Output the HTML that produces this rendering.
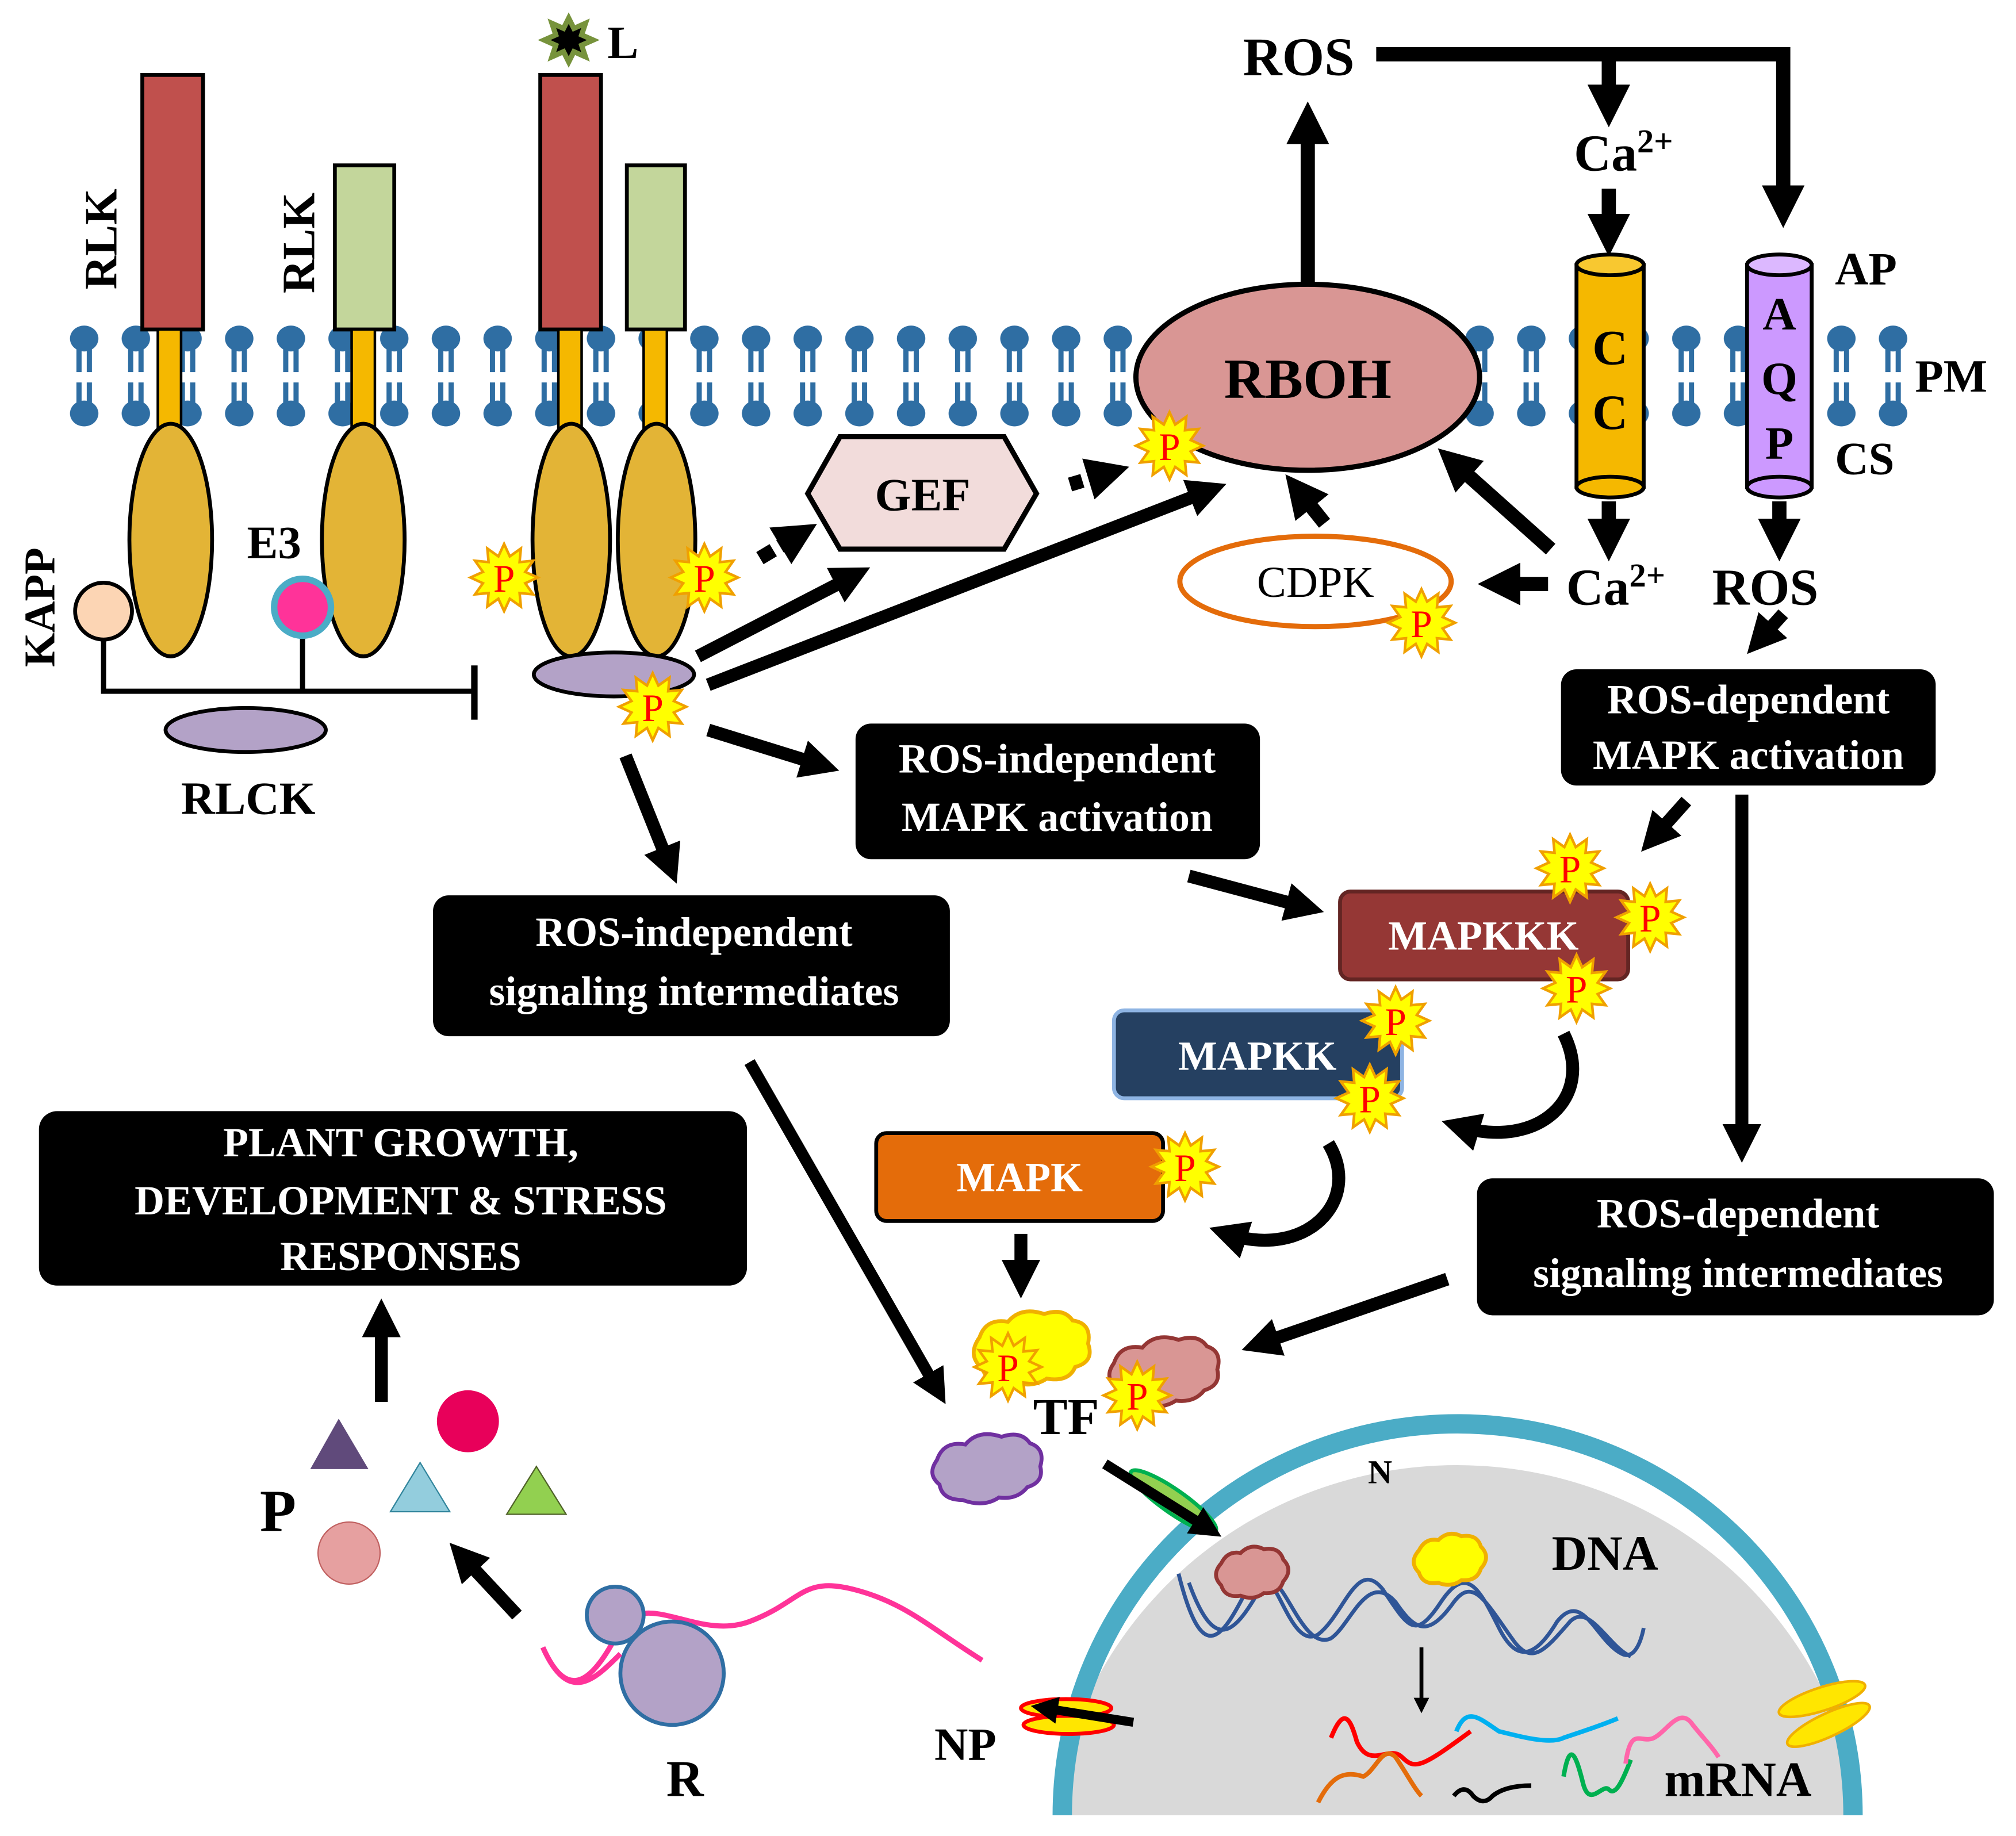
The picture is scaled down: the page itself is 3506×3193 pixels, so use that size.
<!DOCTYPE html>
<html><head><meta charset="utf-8"><style>html,body{margin:0;padding:0;background:#fff}svg{display:block}</style></head><body>
<svg xmlns="http://www.w3.org/2000/svg" xmlns:xlink="http://www.w3.org/1999/xlink" width="3506" height="3193" viewBox="0 0 1560 1421" font-family="Liberation Serif, serif" font-weight="bold">
<defs>
<marker id="ah" viewBox="0 0 10 10" refX="5" refY="5" markerWidth="3" markerHeight="3" orient="auto" markerUnits="strokeWidth"><path d="M0,0 L10,5 L0,10 z" fill="#000"/></marker>
<marker id="ah2" viewBox="0 0 10 10" refX="5" refY="5" markerWidth="4" markerHeight="4" orient="auto" markerUnits="strokeWidth"><path d="M0,0 L10,5 L0,10 z" fill="#000"/></marker>
<pattern id="lip" x="45" y="0" width="40" height="421" patternUnits="userSpaceOnUse">
<ellipse cx="20" cy="262" rx="11" ry="10" fill="#2f6ea3"/>
<line x1="16" y1="265" x2="16" y2="288" stroke="#2f6ea3" stroke-width="4"/>
<line x1="24" y1="265" x2="24" y2="288" stroke="#2f6ea3" stroke-width="4"/>
<ellipse cx="20" cy="320" rx="11" ry="10" fill="#2f6ea3"/>
<line x1="16" y1="296" x2="16" y2="317" stroke="#2f6ea3" stroke-width="4"/>
<line x1="24" y1="296" x2="24" y2="317" stroke="#2f6ea3" stroke-width="4"/>
</pattern>
<polygon id="star" points="26,0 16.4,4.4 22.5,13 12,12 13,22.5 4.4,16.4 0,26 -4.4,16.4 -13,22.5 -12,12 -22.5,13 -16.4,4.4 -26,0 -16.4,-4.4 -22.5,-13 -12,-12 -13,-22.5 -4.4,-16.4 0,-26 4.4,-16.4 13,-22.5 12,-12 22.5,-13 16.4,-4.4" fill="#ffff00" stroke="#f0a000" stroke-width="2"/>
</defs>

<!-- membrane -->
<rect x="45" y="245" width="1440" height="90" fill="url(#lip)"/>

<!-- RLKs -->
<rect x="110" y="58" width="47" height="197" fill="#c0504d" stroke="#000" stroke-width="3"/>
<rect x="122" y="255" width="18" height="80" fill="#f5b800" stroke="#000" stroke-width="2"/>
<ellipse cx="132" cy="418" rx="32" ry="90" fill="#e3b436" stroke="#000" stroke-width="3"/>
<rect x="259" y="128" width="46" height="127" fill="#c3d69b" stroke="#000" stroke-width="3"/>
<rect x="272" y="255" width="18" height="80" fill="#f5b800" stroke="#000" stroke-width="2"/>
<ellipse cx="281" cy="418" rx="32" ry="90" fill="#e3b436" stroke="#000" stroke-width="3"/>
<rect x="418" y="58" width="47" height="197" fill="#c0504d" stroke="#000" stroke-width="3"/>
<rect x="432" y="255" width="18" height="80" fill="#f5b800" stroke="#000" stroke-width="2"/>
<ellipse cx="442" cy="418" rx="30" ry="90" fill="#e3b436" stroke="#000" stroke-width="3"/>
<rect x="485" y="128" width="45" height="127" fill="#c3d69b" stroke="#000" stroke-width="3"/>
<rect x="498" y="255" width="18" height="80" fill="#f5b800" stroke="#000" stroke-width="2"/>
<ellipse cx="508" cy="418" rx="30" ry="90" fill="#e3b436" stroke="#000" stroke-width="3"/>
<text transform="translate(90,185) rotate(-90)" font-size="36" text-anchor="middle">RLK</text>
<text transform="translate(243,188) rotate(-90)" font-size="36" text-anchor="middle">RLK</text>
<polygon points="440,14 444,22 453,18 450,27 459,31 450,35 453,44 444,40 440,48 436,40 427,44 430,35 421,31 430,27 427,18 436,22" fill="#000" stroke="#77933c" stroke-width="4"/>
<text x="470" y="45" font-size="36">L</text>
<text transform="translate(42,470) rotate(-90)" font-size="34" text-anchor="middle">KAPP</text>

<!-- KAPP/E3 -->
<polyline points="80,495 80,535 365,535" fill="none" stroke="#000" stroke-width="4"/>
<line x1="367" y1="515" x2="367" y2="557" stroke="#000" stroke-width="5"/>
<line x1="234" y1="492" x2="234" y2="535" stroke="#000" stroke-width="4"/>
<circle cx="80" cy="473" r="22" fill="#fcd5b4" stroke="#000" stroke-width="3"/>
<circle cx="234" cy="470" r="22" fill="#ff3399" stroke="#4bacc6" stroke-width="5"/>
<text x="212" y="432" font-size="36" text-anchor="middle">E3</text>
<ellipse cx="190" cy="565" rx="62" ry="17" fill="#b3a2c7" stroke="#000" stroke-width="3"/>
<text x="192" y="630" font-size="36" text-anchor="middle">RLCK</text>
<ellipse cx="475" cy="522" rx="62" ry="17" fill="#b3a2c7" stroke="#000" stroke-width="3"/>

<!-- GEF -->
<polygon points="625,382 650,338 777,338 802,382 777,425 650,425" fill="#f2dcdb" stroke="#000" stroke-width="4"/>
<text x="714" y="395" font-size="36" text-anchor="middle">GEF</text>

<!-- RBOH -->
<line x1="1012" y1="222" x2="1012" y2="95" stroke="#000" stroke-width="11" marker-end="url(#ah)"/>
<ellipse cx="1012" cy="292" rx="133" ry="72" fill="#d99694" stroke="#000" stroke-width="4"/>
<text x="1012" y="308" font-size="44" text-anchor="middle">RBOH</text>
<text x="1005" y="58" font-size="42" text-anchor="middle">ROS</text>
<polyline points="1065,42 1380,42 1380,160" fill="none" stroke="#000" stroke-width="11" marker-end="url(#ah)"/>
<line x1="1245" y1="42" x2="1245" y2="82" stroke="#000" stroke-width="11" marker-end="url(#ah)"/>
<text x="1218" y="132" font-size="40">Ca<tspan font-size="26" dy="-14">2+</tspan></text>
<line x1="1245" y1="146" x2="1245" y2="182" stroke="#000" stroke-width="11" marker-end="url(#ah)"/>

<!-- CC -->
<rect x="1220" y="205" width="52" height="172" fill="#f5b800" stroke="#000" stroke-width="3"/>
<ellipse cx="1246" cy="205" rx="26" ry="8" fill="#f8c830" stroke="#000" stroke-width="3"/>
<ellipse cx="1246" cy="377" rx="26" ry="8" fill="#f5b800" stroke="#000" stroke-width="3"/>
<text x="1246" y="282" font-size="38" text-anchor="middle">C</text>
<text x="1246" y="332" font-size="38" text-anchor="middle">C</text>
<!-- AQP -->
<rect x="1352" y="205" width="50" height="172" fill="#cc99ff" stroke="#000" stroke-width="3"/>
<ellipse cx="1377" cy="205" rx="25" ry="8" fill="#dcb8ff" stroke="#000" stroke-width="3"/>
<ellipse cx="1377" cy="377" rx="25" ry="8" fill="#cc99ff" stroke="#000" stroke-width="3"/>
<text x="1377" y="255" font-size="36" text-anchor="middle">A</text>
<text x="1377" y="305" font-size="36" text-anchor="middle">Q</text>
<text x="1377" y="355" font-size="36" text-anchor="middle">P</text>
<text x="1420" y="220" font-size="36">AP</text>
<text x="1482" y="303" font-size="36">PM</text>
<text x="1420" y="367" font-size="36">CS</text>
<line x1="1245" y1="388" x2="1245" y2="418" stroke="#000" stroke-width="11" marker-end="url(#ah)"/>
<line x1="1377" y1="388" x2="1377" y2="418" stroke="#000" stroke-width="11" marker-end="url(#ah)"/>
<text x="1212" y="468" font-size="40">Ca<tspan font-size="26" dy="-14">2+</tspan></text>
<text x="1325" y="468" font-size="40">ROS</text>

<!-- CDPK -->
<ellipse cx="1018" cy="450" rx="105" ry="35" fill="#fff" stroke="#e46c0a" stroke-width="4"/>
<text x="1018" y="462" font-size="34" text-anchor="middle" font-weight="normal">CDPK</text>
<line x1="1198" y1="452" x2="1160" y2="452" stroke="#000" stroke-width="11" marker-end="url(#ah)"/>
<line x1="1200" y1="425" x2="1125" y2="358" stroke="#000" stroke-width="11" marker-end="url(#ah)"/>
<line x1="1025" y1="405" x2="1005" y2="380" stroke="#000" stroke-width="11" marker-end="url(#ah)"/>

<!-- arrows from RLK complex -->
<line x1="588" y1="432" x2="618" y2="414" stroke="#000" stroke-width="11" stroke-dasharray="12,6" marker-end="url(#ah)"/>
<line x1="540" y1="508" x2="660" y2="446" stroke="#000" stroke-width="10" marker-end="url(#ah)"/>
<line x1="548" y1="530" x2="935" y2="380" stroke="#000" stroke-width="10" marker-end="url(#ah)"/>
<line x1="828" y1="375" x2="858" y2="366" stroke="#000" stroke-width="11" stroke-dasharray="10,5" marker-end="url(#ah)"/>
<line x1="548" y1="565" x2="635" y2="592" stroke="#000" stroke-width="10" marker-end="url(#ah)"/>
<line x1="484" y1="585" x2="518" y2="670" stroke="#000" stroke-width="10" marker-end="url(#ah)"/>
<line x1="1380" y1="475" x2="1362" y2="495" stroke="#000" stroke-width="10" marker-end="url(#ah)"/>

<!-- boxes -->
<rect x="1208" y="518" width="290" height="90" rx="12" fill="#000"/>
<text x="1353" y="552" font-size="32" fill="#fff" text-anchor="middle">ROS-dependent</text>
<text x="1353" y="595" font-size="32" fill="#fff" text-anchor="middle">MAPK activation</text>
<rect x="662" y="560" width="313" height="105" rx="12" fill="#000"/>
<text x="818" y="598" font-size="32" fill="#fff" text-anchor="middle">ROS-independent</text>
<text x="818" y="643" font-size="32" fill="#fff" text-anchor="middle">MAPK activation</text>
<rect x="335" y="693" width="400" height="109" rx="12" fill="#000"/>
<text x="537" y="732" font-size="32" fill="#fff" text-anchor="middle">ROS-independent</text>
<text x="537" y="778" font-size="32" fill="#fff" text-anchor="middle">signaling intermediates</text>
<rect x="30" y="860" width="548" height="135" rx="14" fill="#000"/>
<text x="310" y="895" font-size="32" fill="#fff" text-anchor="middle">PLANT GROWTH,</text>
<text x="310" y="940" font-size="32" fill="#fff" text-anchor="middle">DEVELOPMENT &amp; STRESS</text>
<text x="310" y="983" font-size="32" fill="#fff" text-anchor="middle">RESPONSES</text>
<rect x="1143" y="912" width="400" height="106" rx="12" fill="#000"/>
<text x="1345" y="950" font-size="32" fill="#fff" text-anchor="middle">ROS-dependent</text>
<text x="1345" y="996" font-size="32" fill="#fff" text-anchor="middle">signaling intermediates</text>

<!-- more arrows -->
<line x1="920" y1="678" x2="1010" y2="702" stroke="#000" stroke-width="10" marker-end="url(#ah)"/>
<line x1="1305" y1="620" x2="1280" y2="648" stroke="#000" stroke-width="10" marker-end="url(#ah)"/>
<line x1="1348" y1="615" x2="1348" y2="885" stroke="#000" stroke-width="10" marker-end="url(#ah)"/>
<line x1="1120" y1="990" x2="975" y2="1040" stroke="#000" stroke-width="10" marker-end="url(#ah)"/>
<line x1="580" y1="822" x2="725" y2="1075" stroke="#000" stroke-width="9" marker-end="url(#ah)"/>
<line x1="790" y1="955" x2="790" y2="990" stroke="#000" stroke-width="10" marker-end="url(#ah)"/>
<line x1="295" y1="1085" x2="295" y2="1020" stroke="#000" stroke-width="10" marker-end="url(#ah)"/>
<line x1="400" y1="1250" x2="358" y2="1205" stroke="#000" stroke-width="10" marker-end="url(#ah)"/>

<!-- MAPK cascade -->
<rect x="1037" y="690" width="223" height="68" rx="8" fill="#953735" stroke="#632523" stroke-width="3"/>
<text x="1148" y="735" font-size="32" fill="#fff" text-anchor="middle">MAPKKK</text>
<rect x="862" y="782" width="223" height="68" rx="8" fill="#254061" stroke="#8eb4e3" stroke-width="3"/>
<text x="973" y="828" font-size="32" fill="#fff" text-anchor="middle">MAPKK</text>
<rect x="678" y="877" width="222" height="68" rx="8" fill="#e46c0a" stroke="#000" stroke-width="3"/>
<text x="789" y="922" font-size="32" fill="#fff" text-anchor="middle">MAPK</text>
<path d="M1210,800 C1235,850 1190,890 1130,872" fill="none" stroke="#000" stroke-width="10" marker-end="url(#ah)"/>
<path d="M1028,885 C1055,930 1010,975 950,955" fill="none" stroke="#000" stroke-width="10" marker-end="url(#ah)"/>

<!-- Nucleus -->
<path d="M815,1405 A315,310 0 0 1 1440,1405 Z" fill="#d9d9d9"/>
<path d="M822,1405 A306,303 0 0 1 1434,1405" fill="none" stroke="#4bacc6" stroke-width="15"/>
<text x="1068" y="1148" font-size="26" text-anchor="middle">N</text>
<text x="1242" y="1215" font-size="38" text-anchor="middle">DNA</text>
<g fill="none" stroke="#2f5597" stroke-width="3">
<path d="M912,1218 C930,1290 945,1270 965,1230 C985,1190 995,1280 1020,1265 C1040,1250 1050,1205 1070,1230 C1090,1260 1095,1270 1115,1240 C1135,1210 1145,1230 1160,1260 C1175,1290 1190,1280 1205,1255 C1225,1230 1235,1270 1255,1280 C1265,1285 1270,1270 1272,1260"/>
<path d="M920,1225 C940,1280 955,1265 975,1230 C990,1200 1005,1280 1030,1268 C1045,1258 1058,1215 1080,1240 C1095,1262 1105,1268 1125,1240 C1140,1220 1150,1240 1170,1268 C1185,1290 1195,1278 1215,1255 C1230,1240 1245,1275 1262,1282"/>
</g>
<path d="M945,1210 q5,-10 15,-8 q8,-8 18,-3 q12,-2 15,8 q8,8 0,17 q-3,10 -15,9 q-8,6 -18,2 q-12,2 -15,-8 q-8,-8 0,-17z" fill="#d99694" stroke="#943634" stroke-width="3"/>
<path d="M1098,1200 q5,-10 15,-8 q8,-8 18,-3 q12,-2 15,8 q8,8 0,17 q-3,10 -15,9 q-8,6 -18,2 q-12,2 -15,-8 q-8,-8 0,-17z" fill="#ffff00" stroke="#f0b000" stroke-width="3"/>
<line x1="1100" y1="1275" x2="1100" y2="1320" stroke="#000" stroke-width="3" marker-end="url(#ah2)"/>
<g fill="none" stroke-width="3.5">
<path d="M1030,1345 C1040,1320 1045,1330 1050,1348 C1060,1370 1075,1350 1085,1360 C1095,1370 1100,1368 1138,1340" stroke="#ff0000"/>
<path d="M1020,1395 C1030,1375 1040,1370 1055,1375 C1065,1370 1070,1350 1080,1360 C1090,1375 1095,1385 1100,1390" stroke="#e46c0a"/>
<path d="M1127,1340 C1135,1320 1145,1330 1160,1340 C1180,1345 1200,1350 1210,1345 C1225,1340 1240,1335 1252,1330" stroke="#00b0f0"/>
<path d="M1125,1390 q8,-10 15,0 q8,8 15,0 q10,-8 30,-8" stroke="#000"/>
<path d="M1210,1375 C1215,1345 1220,1360 1225,1380 C1230,1400 1240,1380 1245,1385 C1250,1390 1255,1380 1262,1362" stroke="#00b050"/>
<path d="M1258,1365 C1262,1335 1270,1350 1280,1345 C1290,1340 1300,1320 1310,1335 C1318,1345 1325,1352 1330,1360" stroke="#ff66aa"/>
</g>
<text x="1345" y="1390" font-size="38" text-anchor="middle">mRNA</text>
<ellipse cx="1410" cy="1315" rx="35" ry="9" transform="rotate(-18 1410 1315)" fill="#ffe600" stroke="#f0b000" stroke-width="2"/>
<ellipse cx="1415" cy="1335" rx="35" ry="9" transform="rotate(-25 1415 1335)" fill="#ffe600" stroke="#f0b000" stroke-width="2"/>
<ellipse cx="908" cy="1162" rx="40" ry="9" transform="rotate(35 908 1162)" fill="#92d050" stroke="#00b050" stroke-width="3"/>
<line x1="855" y1="1133" x2="935" y2="1183" stroke="#000" stroke-width="8" marker-end="url(#ah)"/>
<ellipse cx="825" cy="1322" rx="35" ry="7" fill="#ffe600" stroke="#ff0000" stroke-width="3"/>
<ellipse cx="827" cy="1335" rx="35" ry="7" fill="#ffe600" stroke="#ff0000" stroke-width="3"/>
<line x1="877" y1="1333" x2="808" y2="1322" stroke="#000" stroke-width="7" marker-end="url(#ah)"/>
<text x="747" y="1362" font-size="36" text-anchor="middle">NP</text>

<!-- TF clouds -->
<path d="M758,1035 q5,-15 22,-12 q10,-12 28,-6 q15,-5 22,5 q15,2 12,18 q5,14 -10,18 q-5,12 -22,9 q-12,8 -28,2 q-18,2 -22,-10 q-12,-10 -2,-24z" fill="#ffff00" stroke="#f0b000" stroke-width="3"/>
<path d="M862,1055 q5,-15 22,-12 q10,-12 28,-6 q15,-5 22,5 q12,4 8,18 q3,12 -10,16 q-8,10 -22,8 q-12,8 -28,2 q-16,0 -18,-12 q-10,-8 -2,-19z" fill="#d99694" stroke="#943634" stroke-width="3"/>
<path d="M725,1130 q5,-15 22,-12 q10,-12 28,-6 q15,-5 22,5 q12,4 8,18 q3,12 -10,16 q-8,10 -22,8 q-12,8 -28,2 q-16,0 -18,-12 q-10,-8 -2,-19z" fill="#b3a2c7" stroke="#7030a0" stroke-width="3"/>
<text x="825" y="1110" font-size="40" text-anchor="middle">TF</text>

<!-- Ribosome -->
<path d="M420,1275 C440,1320 460,1300 480,1260 C500,1230 540,1270 580,1255 C620,1240 620,1220 660,1230 C700,1240 720,1260 760,1285" fill="none" stroke="#ff3399" stroke-width="4"/>
<circle cx="476" cy="1250" r="22" fill="#b3a2c7" stroke="#2f6ea3" stroke-width="3"/>
<circle cx="520" cy="1295" r="40" fill="#b3a2c7" stroke="#2f6ea3" stroke-width="3"/>
<path d="M420,1275 C440,1320 460,1300 480,1280" fill="none" stroke="#ff3399" stroke-width="4"/>
<text x="530" y="1390" font-size="40" text-anchor="middle">R</text>

<!-- Products -->
<text x="215" y="1185" font-size="46" text-anchor="middle">P</text>
<polygon points="262,1098 240,1137 285,1137" fill="#604a7b"/>
<circle cx="362" cy="1100" r="24" fill="#e8005a"/>
<polygon points="325,1132 302,1170 348,1170" fill="#93cddd" stroke="#31859c" stroke-width="1"/>
<polygon points="415,1135 392,1172 438,1172" fill="#92d050" stroke="#4f6228" stroke-width="1"/>
<circle cx="270" cy="1202" r="24" fill="#e6a0a0" stroke="#c06060" stroke-width="1"/>

<!-- P stars -->
<g font-size="30" fill="#ff0000" text-anchor="middle" font-weight="normal">
<use xlink:href="#star" x="390" y="447"/><text x="390" y="458">P</text>
<use xlink:href="#star" x="545" y="447"/><text x="545" y="458">P</text>
<use xlink:href="#star" x="505" y="547"/><text x="505" y="558">P</text>
<use xlink:href="#star" x="905" y="345"/><text x="905" y="356">P</text>
<use xlink:href="#star" x="1100" y="482"/><text x="1100" y="493">P</text>
<use xlink:href="#star" x="1215" y="672"/><text x="1215" y="683">P</text>
<use xlink:href="#star" x="1277" y="710"/><text x="1277" y="721">P</text>
<use xlink:href="#star" x="1220" y="765"/><text x="1220" y="776">P</text>
<use xlink:href="#star" x="1080" y="790"/><text x="1080" y="801">P</text>
<use xlink:href="#star" x="1060" y="850"/><text x="1060" y="861">P</text>
<use xlink:href="#star" x="917" y="903"/><text x="917" y="914">P</text>
<use xlink:href="#star" x="780" y="1058"/><text x="780" y="1069">P</text>
<use xlink:href="#star" x="880" y="1080"/><text x="880" y="1091">P</text>
</g>
</svg>
</body></html>
